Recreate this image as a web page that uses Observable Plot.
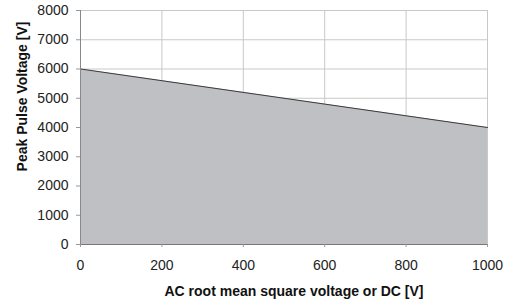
<!DOCTYPE html>
<html>
<head>
<meta charset="utf-8">
<script src="https://cdn.jsdelivr.net/npm/d3@7"></script>
<script src="https://cdn.jsdelivr.net/npm/@observablehq/plot@0.6"></script>
<style>
  html, body { margin: 0; padding: 0; background: #fff; }
  #chart svg { display: block; }
</style>
</head>
<body>
<div id="chart"></div>
<script>
const voltageDC = [0, 1000];
const peakPulse = [6000, 4000];
const xTicks = [0, 200, 400, 600, 800, 1000];
const yTicks = [0, 1000, 2000, 3000, 4000, 5000, 6000, 7000, 8000];
const xLabel = "AC root mean square voltage or DC [V]";
const yLabel = "Peak Pulse Voltage [V]";

const data = voltageDC.map((v, i) => ({x: v, y: peakPulse[i]}));

const chart = Plot.plot({
  width: 513,
  height: 304,
  marginLeft: 80,
  marginRight: 26,
  marginTop: 10,
  marginBottom: 60,
  style: {fontFamily: "Liberation Sans, Arial, sans-serif", fontSize: "14px", color: "#222", background: "#fff"},
  x: {domain: [0, 1000]},
  y: {domain: [0, 8000]},
  marks: [
    Plot.gridY(yTicks, {stroke: "#c8c8c8", strokeOpacity: 1}),
    Plot.gridX(xTicks, {stroke: "#c8c8c8", strokeOpacity: 1}),
    Plot.areaY(data, {x: "x", y: "y", fill: "#bfc0c4"}),
    Plot.line(data, {x: "x", y: "y", stroke: "#3a3a3a", strokeWidth: 1}),
    Plot.ruleX([0], {stroke: "#888"}),
    Plot.ruleY([0], {stroke: "#777"}),
    Plot.axisY(yTicks, {tickSize: 4, tickPadding: 8, label: null, tickFormat: d3.format("d"), stroke: "#999", fill: "#222", fontSize: 14}),
    Plot.axisX(xTicks, {tickSize: 3, tickPadding: 13, label: null, tickFormat: d3.format("d"), stroke: "#999", fill: "#222", fontSize: 14}),
    Plot.text([xLabel], {frameAnchor: "bottom", dy: 51, dx: 10, fontWeight: "bold", fontSize: 14, fill: "#111"}),
    Plot.text([yLabel], {frameAnchor: "left", dx: -58, dy: -31, rotate: -90, textAnchor: "middle", fontWeight: "bold", fontSize: 14, fill: "#111"})
  ]
});
document.getElementById("chart").appendChild(chart);
</script>
</body>
</html>
